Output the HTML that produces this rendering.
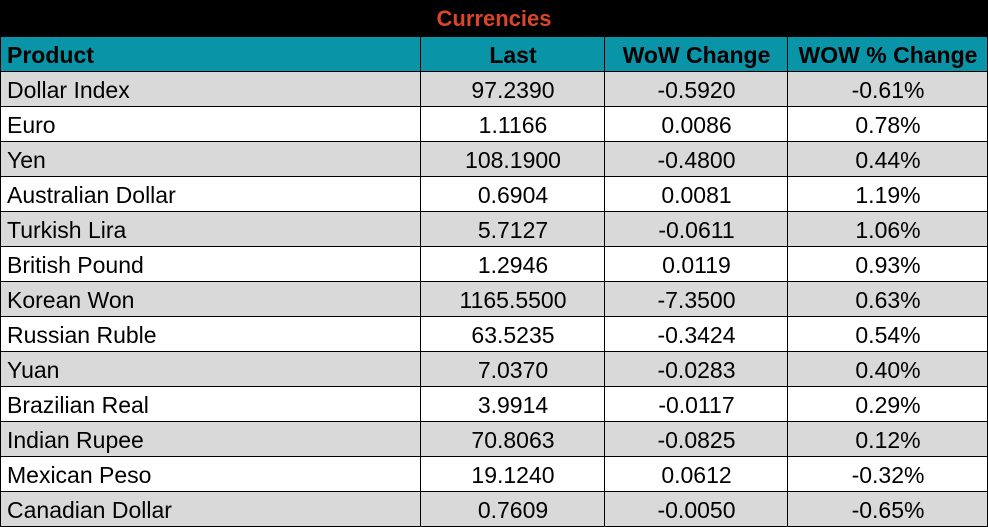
<!DOCTYPE html>
<html><head><meta charset="utf-8"><style>
html,body{margin:0;padding:0;background:#fff;width:988px;height:527px;overflow:hidden;position:relative;font-family:"Liberation Sans",sans-serif;color:#000}
.title{position:absolute;left:0;top:0;width:988px;height:37px;background:#000;color:#d9462a;font-weight:bold;font-size:22px;text-align:center;line-height:38px}
.row{position:absolute;left:0;width:987px;height:35px;font-size:23px;line-height:37px;border-left:1px solid #000;box-sizing:border-box}
.row div{position:absolute;top:0;height:35px;text-align:center;white-space:nowrap}
.c0{left:6px;width:410px;text-align:left!important}
.c1{left:420px;width:184px}.c2{left:604px;width:183px}.c3{left:787px;width:200px}
.h{background:#0a94a8;font-weight:bold}
.g{background:#d9d9d9}.w{background:#fff}
.hl{position:absolute;left:0;width:988px;height:1px;background:#000}
.vl{position:absolute;top:37px;width:1px;height:490px;background:#000}
</style></head><body>
<div class="title">Currencies</div>
<div class="row h" style="top:37px"><div class="c0">Product</div><div class="c1">Last</div><div class="c2">WoW Change</div><div class="c3">WOW % Change</div></div>
<div class="row g" style="top:72px"><div class="c0">Dollar Index</div><div class="c1">97.2390</div><div class="c2">-0.5920</div><div class="c3">-0.61%</div></div>
<div class="row w" style="top:107px"><div class="c0">Euro</div><div class="c1">1.1166</div><div class="c2">0.0086</div><div class="c3">0.78%</div></div>
<div class="row g" style="top:142px"><div class="c0">Yen</div><div class="c1">108.1900</div><div class="c2">-0.4800</div><div class="c3">0.44%</div></div>
<div class="row w" style="top:177px"><div class="c0">Australian Dollar</div><div class="c1">0.6904</div><div class="c2">0.0081</div><div class="c3">1.19%</div></div>
<div class="row g" style="top:212px"><div class="c0">Turkish Lira</div><div class="c1">5.7127</div><div class="c2">-0.0611</div><div class="c3">1.06%</div></div>
<div class="row w" style="top:247px"><div class="c0">British Pound</div><div class="c1">1.2946</div><div class="c2">0.0119</div><div class="c3">0.93%</div></div>
<div class="row g" style="top:282px"><div class="c0">Korean Won</div><div class="c1">1165.5500</div><div class="c2">-7.3500</div><div class="c3">0.63%</div></div>
<div class="row w" style="top:317px"><div class="c0">Russian Ruble</div><div class="c1">63.5235</div><div class="c2">-0.3424</div><div class="c3">0.54%</div></div>
<div class="row g" style="top:352px"><div class="c0">Yuan</div><div class="c1">7.0370</div><div class="c2">-0.0283</div><div class="c3">0.40%</div></div>
<div class="row w" style="top:387px"><div class="c0">Brazilian Real</div><div class="c1">3.9914</div><div class="c2">-0.0117</div><div class="c3">0.29%</div></div>
<div class="row g" style="top:422px"><div class="c0">Indian Rupee</div><div class="c1">70.8063</div><div class="c2">-0.0825</div><div class="c3">0.12%</div></div>
<div class="row w" style="top:457px"><div class="c0">Mexican Peso</div><div class="c1">19.1240</div><div class="c2">0.0612</div><div class="c3">-0.32%</div></div>
<div class="row g" style="top:492px"><div class="c0">Canadian Dollar</div><div class="c1">0.7609</div><div class="c2">-0.0050</div><div class="c3">-0.65%</div></div>
<div class="hl" style="top:71px"></div><div class="hl" style="top:106px"></div><div class="hl" style="top:141px"></div><div class="hl" style="top:176px"></div><div class="hl" style="top:211px"></div><div class="hl" style="top:246px"></div><div class="hl" style="top:281px"></div><div class="hl" style="top:316px"></div><div class="hl" style="top:351px"></div><div class="hl" style="top:386px"></div><div class="hl" style="top:421px"></div><div class="hl" style="top:456px"></div><div class="hl" style="top:491px"></div><div class="hl" style="top:526px"></div>
<div class="vl" style="left:0"></div><div class="vl" style="left:420px"></div><div class="vl" style="left:604px"></div><div class="vl" style="left:787px"></div><div class="vl" style="left:987px"></div>
</body></html>
